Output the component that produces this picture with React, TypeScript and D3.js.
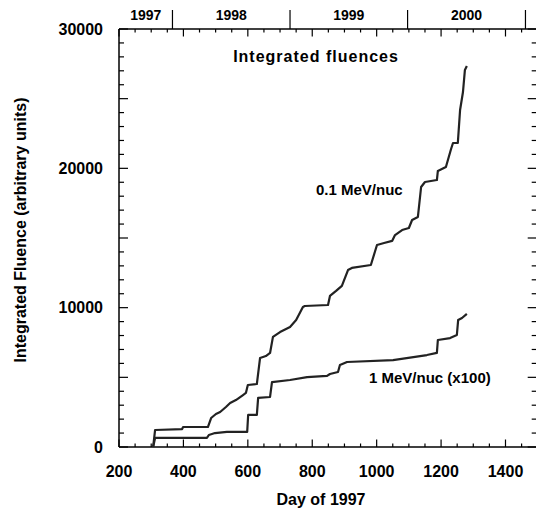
import * as d3 from "d3";

// 0.1 MeV/nuc integrated fluence (day of 1997, value)
const LOW_E_DAYS = [
  306, 312, 396, 399, 476, 486, 501, 514, 532, 545, 563, 585, 594, 600, 628,
  638, 656, 669, 678, 700, 731, 750, 771, 777, 849, 855, 874, 892, 911, 923,
  982, 1001, 1023, 1048, 1057, 1079, 1100, 1110, 1128, 1138, 1150, 1187, 1190,
  1215, 1231, 1237, 1252, 1259, 1268, 1274, 1280,
];
const LOW_E_VALUES = [
  0, 1220, 1290, 1435, 1435, 2080, 2370, 2510, 2870, 3160, 3370, 3730, 3880,
  4450, 4520, 6390, 6530, 6750, 7900, 8250, 8610, 9110, 10050, 10120, 10190,
  10840, 11200, 11560, 12700, 12850, 13060, 14500, 14640, 14790, 15210, 15570,
  15720, 16290, 16510, 18660, 19020, 19160, 19810, 20100, 21390, 21820, 21820,
  24190, 25480, 27060, 27340,
];

// 1 MeV/nuc integrated fluence (x100)
const HIGH_E_DAYS = [
  306, 312, 473, 479, 498, 535, 598, 601, 628, 632, 669, 675, 731, 784, 846,
  855, 880, 886, 908, 1051, 1156, 1187, 1190, 1228, 1249, 1253, 1265, 1280,
];
const HIGH_E_VALUES = [
  0, 650, 650, 860, 1000, 1080, 1080, 2300, 2300, 3520, 3590, 4660, 4810, 5020,
  5100, 5240, 5380, 5880, 6100, 6240, 6600, 6750, 7680, 7820, 8040, 9110, 9260,
  9550,
];

const X_TICKS = [200, 400, 600, 800, 1000, 1200, 1400];
const Y_TICKS = [0, 10000, 20000, 30000];
const YEARS = ["1997", "1998", "1999", "2000"];
const YEAR_STARTS = [366, 731, 1096, 1462];

const FONT = "'Liberation Sans', Arial, Helvetica, sans-serif";

export default function App() {
  const width = 536;
  const height = 510;
  const x = d3.scaleLinear().domain([200, 1500]).range([119, 537.7]);
  const y = d3.scaleLinear().domain([0, 30000]).range([447, 29]);
  const [x0, x1] = x.range();
  const [y0, y1] = y.range();

  const line = d3
    .line<[number, number]>()
    .x((d) => x(d[0]))
    .y((d) => y(d[1]));
  const lowE = LOW_E_DAYS.map((d, i) => [d, LOW_E_VALUES[i]] as [number, number]);
  const highE = HIGH_E_DAYS.map((d, i) => [d, HIGH_E_VALUES[i]] as [number, number]);

  const xMinor = d3.range(200, 1501, 50);
  const yMinor = d3.range(0, 30001, 1000);
  const yearEdges = [200, ...YEAR_STARTS];

  return (
    <svg
      width={width}
      height={height}
      style={{ position: "absolute", left: 0, top: 0, background: "#fff" }}
      fontFamily={FONT}
      fontWeight="bold"
    >
      {/* frame */}
      <g stroke="#000" strokeWidth={1.5} fill="none">
        <line x1={x0} x2={x1} y1={y0} y2={y0} />
        <line x1={x0} x2={x1} y1={y1} y2={y1} />
        <line x1={x0} x2={x0} y1={y0} y2={y1} />
        <line x1={x1} x2={x1} y1={y0} y2={y1} />
      </g>

      {/* ticks on all four sides, pointing inward */}
      <g stroke="#000" strokeWidth={1.2}>
        {xMinor.map((v) => {
          const len = v % 200 === 0 ? 7.5 : 3.5;
          return (
            <g key={v}>
              <line x1={x(v)} x2={x(v)} y1={y0} y2={y0 - len} />
              <line x1={x(v)} x2={x(v)} y1={y1} y2={y1 + len} />
            </g>
          );
        })}
        {yMinor.map((v) => {
          const len = v % 5000 === 0 ? 9 : 5;
          return (
            <g key={v}>
              <line x1={x0} x2={x0 + len} y1={y(v)} y2={y(v)} />
              <line x1={x1 - len - 1} x2={x1} y1={y(v)} y2={y(v)} />
            </g>
          );
        })}
        {YEAR_STARTS.map((d) => (
          <line key={d} x1={x(d)} x2={x(d)} y1={y1} y2={10} />
        ))}
      </g>

      {/* tick labels */}
      <g fontSize={16} fill="#000">
        {X_TICKS.map((v) => (
          <text key={v} x={x(v)} y={477} textAnchor="middle">
            {v}
          </text>
        ))}
        {Y_TICKS.map((v) => (
          <text key={v} x={103} y={y(v)} dy="0.36em" textAnchor="end">
            {v}
          </text>
        ))}
      </g>
      <g fontSize={14} fill="#000">
        {YEARS.map((yr, i) => (
          <text
            key={yr}
            x={(x(yearEdges[i]) + x(yearEdges[i + 1])) / 2}
            y={20}
            textAnchor="middle"
          >
            {yr}
          </text>
        ))}
      </g>

      {/* axis titles */}
      <text x={321} y={505} textAnchor="middle" fontSize={16}>
        Day of 1997
      </text>
      <text
        transform="translate(26,230) rotate(-90)"
        textAnchor="middle"
        fontSize={16}
      >
        Integrated Fluence (arbitrary units)
      </text>

      {/* curves */}
      <g fill="none" stroke="#222" strokeWidth={2.2} strokeLinejoin="round">
        <path d={line(lowE) ?? ""} />
        <path d={line(highE) ?? ""} />
      </g>

      {/* annotations */}
      <text x={316} y={62} textAnchor="middle" fontSize={16} letterSpacing={1}>
        Integrated fluences
      </text>
      <text x={316} y={195} fontSize={15}>
        0.1 MeV/nuc
      </text>
      <text x={369} y={383} fontSize={15}>
        1 MeV/nuc (x100)
      </text>
    </svg>
  );
}
